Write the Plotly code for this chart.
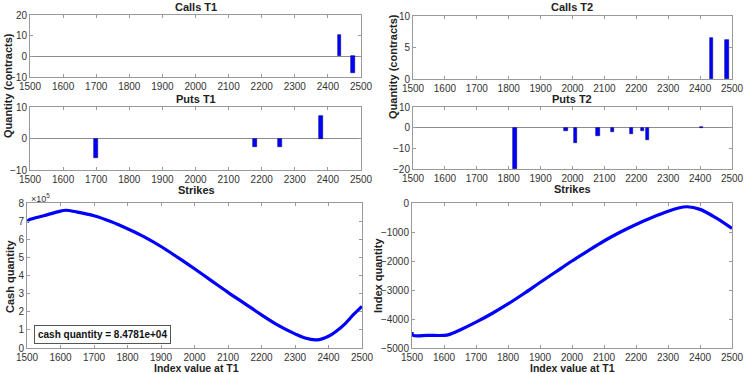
import plotly.graph_objects as go

# option positions (strike, contracts)
calls_t1_strikes = [2435, 2475]
calls_t1_qty = [10.2, -8.0]
puts_t1_strikes = [1700, 2180, 2255, 2380]
puts_t1_qty = [-6.2, -2.8, -2.7, 7.3]
calls_t2_strikes = [2435, 2485]
calls_t2_qty = [6.5, 6.2]
puts_t2_strikes = [1820, 1980, 2010, 2080, 2125, 2185, 2220, 2235, 2405]
puts_t2_qty = [-20.0, -1.8, -7.2, -4.2, -2.0, -3.0, -1.5, -6.2, 0.3]

# hedge quantities vs index value at T1
cash_index = [1500, 1505, 1510, 1550, 1600, 1615, 1650, 1700, 1750, 1800, 1850, 1900, 1950,
              2000, 2050, 2100, 2150, 2200, 2250, 2300, 2330, 2365, 2400, 2425, 2450, 2475, 2500]
cash_qty = [695000, 705000, 710000, 730000, 755000, 760000, 750000, 730000, 698000, 658000,
            613000, 560000, 500000, 437000, 372000, 307000, 245000, 183000, 125000, 78000,
            55000, 45000, 65000, 95000, 135000, 185000, 230000]
idx_index = [1500, 1503, 1550, 1600, 1615, 1650, 1700, 1750, 1800, 1850, 1900, 1950, 2000,
             2050, 2100, 2150, 2200, 2250, 2300, 2330, 2360, 2400, 2450, 2500]
idx_qty = [-4450, -4560, -4565, -4565, -4540, -4380, -4110, -3810, -3480, -3120, -2740, -2370,
           -2000, -1650, -1310, -1010, -740, -500, -285, -180, -130, -220, -515, -880]
cash_note = "cash quantity = 8.4781e+04"

W, H = 747, 374
FONT = "Liberation Sans, Arial, sans-serif"
AX = "#9a9a9a"
TXT = "#333333"
BLUE = "#0000ff"


def xd(a, b):
    return [a / W, b / W]


def yd(top, bottom):
    return [1 - bottom / H, 1 - top / H]


fig = go.Figure()

bar_sets = [
    (calls_t1_strikes, calls_t1_qty, "x", "y"),
    (puts_t1_strikes, puts_t1_qty, "x2", "y2"),
    (calls_t2_strikes, calls_t2_qty, "x3", "y3"),
    (puts_t2_strikes, puts_t2_qty, "x4", "y4"),
]
for xs, ys, xa, ya in bar_sets:
    fig.add_trace(go.Bar(x=xs, y=ys, width=11, xaxis=xa, yaxis=ya,
                         marker=dict(color=BLUE, line=dict(color="#000080", width=0.6)),
                         showlegend=False))

fig.add_trace(go.Scatter(x=cash_index, y=[v / 1e5 for v in cash_qty], mode="lines",
                         line=dict(color=BLUE, width=3.2, shape="spline"),
                         xaxis="x5", yaxis="y5", showlegend=False))
fig.add_trace(go.Scatter(x=idx_index, y=idx_qty, mode="lines",
                         line=dict(color=BLUE, width=3.2, shape="spline"),
                         xaxis="x6", yaxis="y6", showlegend=False))

common = dict(showline=True, linecolor=AX, linewidth=1, mirror="ticks", ticks="inside",
              ticklen=3, tickcolor=AX, showgrid=False, tickfont=dict(size=10, color=TXT),
              zeroline=False, automargin=False)

xticks = list(range(1500, 2501, 100))
panels = [
    # xaxis, yaxis, x-domain px, y-domain px, yrange, ytickvals
    ("xaxis", "yaxis", (30, 361), (15, 77), [-10, 20], [-10, 0, 10, 20], True),
    ("xaxis2", "yaxis2", (30, 361), (107, 170), [-10, 10], [-10, 0, 10], True),
    ("xaxis3", "yaxis3", (413, 732), (16, 79), [0, 10], [0, 5, 10], False),
    ("xaxis4", "yaxis4", (413, 732), (107, 169), [-20, 10], [-20, -10, 0, 10], True),
    ("xaxis5", "yaxis5", (27, 362), (203, 348), [0, 8], list(range(0, 9)), False),
    ("xaxis6", "yaxis6", (412, 732), (203, 348), [-5000, 0], list(range(-5000, 1, 1000)), False),
]
layout = {}
for i, (xk, yk, (x0, x1), (t, b), yr, yt, zl) in enumerate(panels):
    n = i + 1
    anchor_y = "y" if n == 1 else f"y{n}"
    anchor_x = "x" if n == 1 else f"x{n}"
    layout[xk] = dict(common, domain=xd(x0, x1), range=[1500, 2500], tickvals=xticks,
                      anchor=anchor_y)
    layout[yk] = dict(common, domain=yd(t, b), range=yr, tickvals=yt, anchor=anchor_x,
                      zeroline=zl, zerolinecolor="#8c8c8c", zerolinewidth=1)
fig.update_layout(**layout)

ann = []


def label(text, x, y, size=11, angle=0, bold=True):
    ann.append(dict(text=f"<b>{text}</b>" if bold else text, x=x / W, y=1 - y / H,
                    xref="paper", yref="paper", showarrow=False, textangle=angle,
                    font=dict(size=size, color="#222222", family=FONT),
                    xanchor="center", yanchor="middle"))


label("Calls T1", 196, 7)
label("Puts T1", 196, 99)
label("Calls T2", 572, 7)
label("Puts T2", 572, 99)
label("Strikes", 196, 190)
label("Strikes", 572, 189)
label("Index value at T1", 196, 368, size=10.5)
label("Index value at T1", 572, 368, size=10.5)
label("Quantity (contracts)", 8, 86, angle=-90)
label("Quantity (contracts)", 393, 67, angle=-90)
label("Cash quantity", 10, 276, angle=-90)
label("Index quantity", 378, 276, angle=-90)
ann.append(dict(text="×10<sup>5</sup>", x=29 / W, y=1 - 198 / H, xref="paper", yref="paper",
                showarrow=False, xanchor="left", yanchor="middle",
                font=dict(size=9, color=TXT, family=FONT)))
ann.append(dict(text=f"<b>{cash_note}</b>", x=34 / W, y=1 - 334 / H, xref="paper",
                yref="paper", showarrow=False, xanchor="left", yanchor="middle",
                bgcolor="white", bordercolor="#555555", borderwidth=1, borderpad=3,
                font=dict(size=10, color="#111111", family=FONT)))

fig.update_layout(width=W, height=H, margin=dict(l=0, r=0, t=0, b=0),
                  paper_bgcolor="white", plot_bgcolor="white",
                  font=dict(family=FONT, color=TXT), annotations=ann, bargap=0)

# drop the page's default body margin so the figure sits at the window's corner
fig.write_html("out.html", config={"displayModeBar": False},
               post_script="document.body.style.margin='0';")
